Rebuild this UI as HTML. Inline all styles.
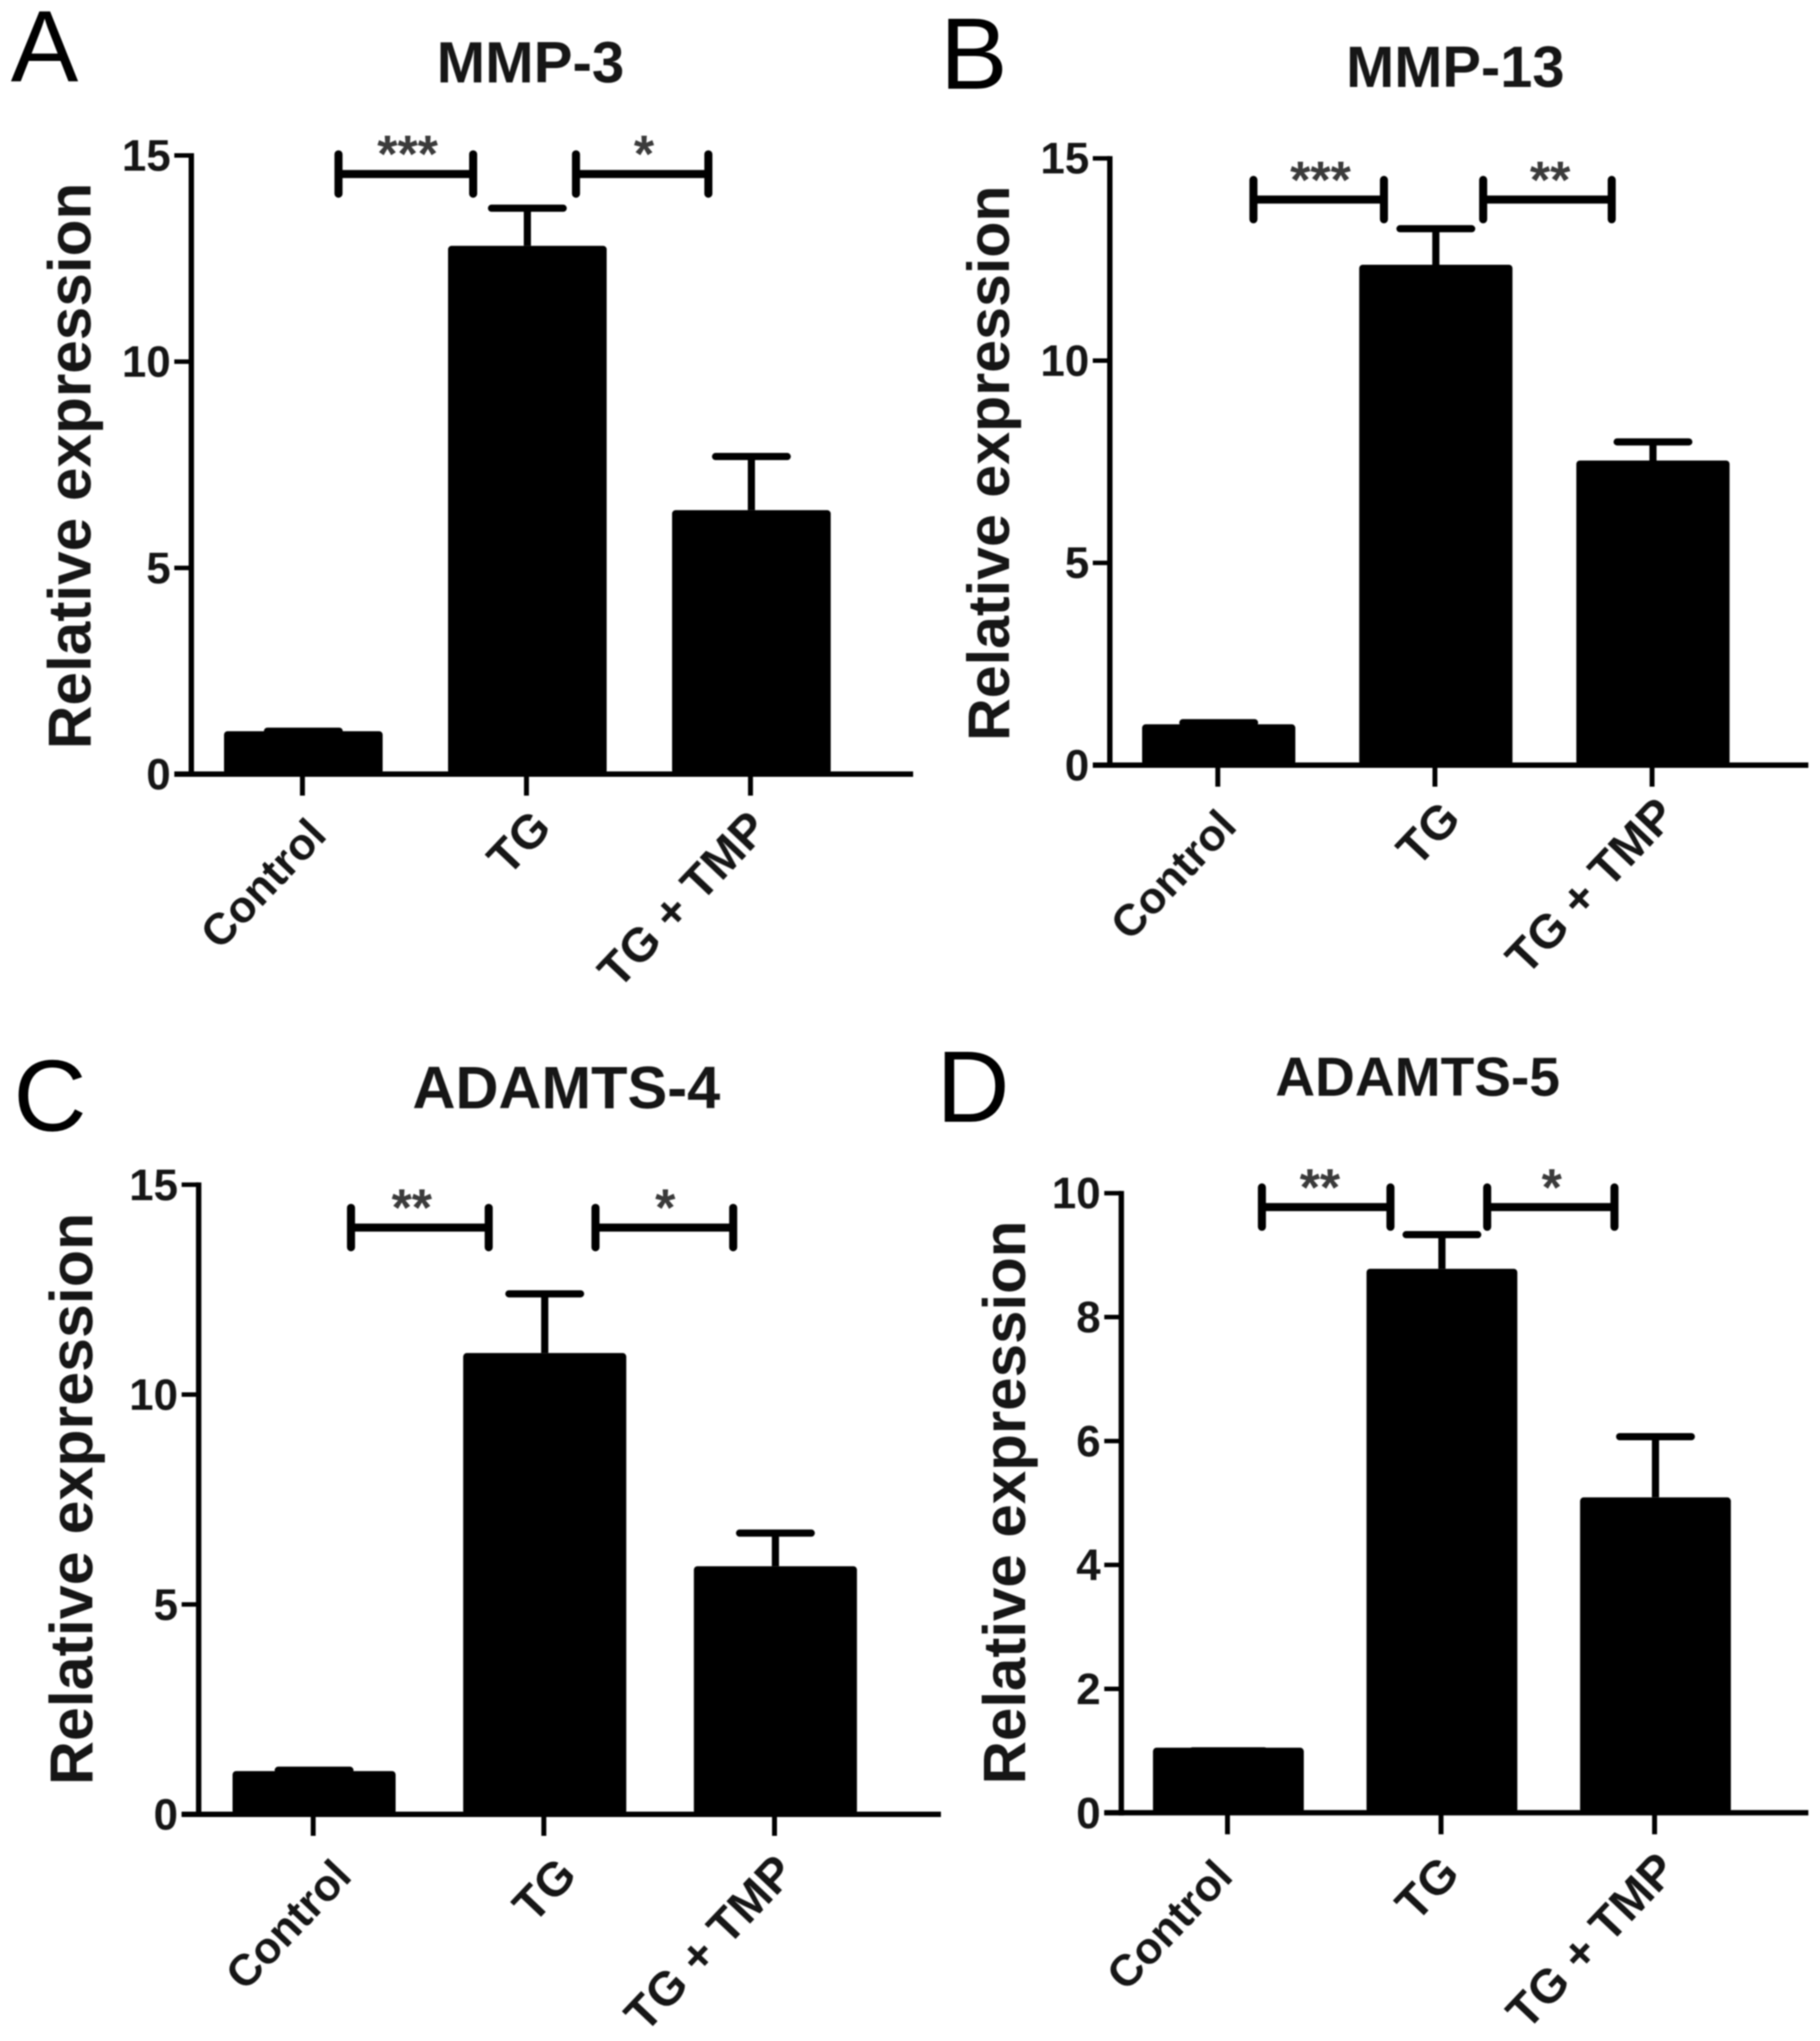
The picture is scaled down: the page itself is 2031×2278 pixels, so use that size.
<!DOCTYPE html>
<html lang="en">
<head>
<meta charset="utf-8">
<title>Relative expression of MMP-3, MMP-13, ADAMTS-4 and ADAMTS-5</title>
<style>
html,body{margin:0;padding:0;background:#fff;width:2031px;height:2278px;overflow:hidden}
svg{display:block}
text{font-family:"Liberation Sans",Arial,sans-serif}
.letter{font-size:113px;font-weight:400;fill:#000}
.title{font-weight:700;fill:#151515;text-anchor:middle}
.ytitle{font-weight:700;fill:#151515;text-anchor:middle}
</style>
</head>
<body>
<svg id="figure" xmlns="http://www.w3.org/2000/svg" width="2031" height="2278" viewBox="0 0 2031 2278">
<defs><filter id="soft" x="-5%" y="-5%" width="110%" height="110%"><feGaussianBlur stdDeviation="0.9"/></filter></defs>
<rect width="2031" height="2278" fill="#fff"/>
<g id="plots" filter="url(#soft)">
<g id="panel-a">
<text class="letter" x="12" y="91">A</text>
<text class="title" font-size="65" x="592" y="92">MMP-3</text>
<text class="ytitle" font-size="67.3" transform="translate(101 520) rotate(-90)">Relative expression</text>
</g>
<g id="panel-b">
<text class="letter" x="1049" y="99">B</text>
<text class="title" font-size="64.5" x="1624" y="97">MMP-13</text>
<text class="ytitle" font-size="66" transform="translate(1126 517) rotate(-90)">Relative expression</text>
</g>
<g id="panel-c">
<text class="letter" x="15" y="1262">C</text>
<text class="title" font-size="66.5" x="632" y="1237">ADAMTS-4</text>
<text class="ytitle" font-size="68" transform="translate(103 1673) rotate(-90)">Relative expression</text>
</g>
<g id="panel-d">
<text class="letter" x="1045" y="1252">D</text>
<text class="title" font-size="61.5" x="1582" y="1223">ADAMTS-5</text>
<text class="ytitle" font-size="67" transform="translate(1144 1677) rotate(-90)">Relative expression</text>
</g>
</g>
</svg>
<script>
var categories = ['Control', 'TG', 'TG + TMP'];

var mmp3Values = [1.04, 12.81, 6.4];
var mmp3Tops = [1.04, 13.72, 7.7];
var mmp3Ticks = [0, 5, 10, 15];

var mmp13Values = [1.01, 12.37, 7.53];
var mmp13Tops = [1.05, 13.26, 7.99];
var mmp13Ticks = [0, 5, 10, 15];

var adamts4Values = [1.03, 10.99, 5.91];
var adamts4Tops = [1.05, 12.4, 6.7];
var adamts4Ticks = [0, 5, 10, 15];

var adamts5Values = [1.05, 8.78, 5.09];
var adamts5Tops = [1, 9.33, 6.07];
var adamts5Ticks = [0, 2, 4, 6, 8, 10];

var significanceLabels = {
  a: ['***', '*'],
  b: ['***', '**'],
  c: ['**', '*'],
  d: ['**', '*']
};

var NS = 'http://www.w3.org/2000/svg';

function mk(parent, tag, attrs) {
  var el = document.createElementNS(NS, tag);
  for (var k in attrs) el.setAttribute(k, attrs[k]);
  parent.appendChild(el);
  return el;
}

function drawPanel(id, cfg, values, tops, ticks, labels) {
  var g = mk(document.getElementById('plots'), 'g', {});
  
  

  function xPos(i) { return cfg.x0 + i * cfg.step; }
  function yPos(v) { return cfg.y0 - v * (cfg.y0 - cfg.yTop) / cfg.max; }

  values.forEach(function (v, i) {
    var stem = mk(g, 'line', {x1: xPos(i), x2: xPos(i), y1: yPos(v), y2: yPos(tops[i]), stroke: '#000', 'stroke-width': 8});
    
    
    var cap = mk(g, 'line', {x1: xPos(i) - 40, x2: xPos(i) + 40, y1: yPos(tops[i]), y2: yPos(tops[i]), stroke: '#000', 'stroke-width': 8, 'stroke-linecap': 'round'});
    
    
    var bar = mk(g, 'rect', {x: xPos(i) - cfg.barW / 2, y: yPos(v), width: cfg.barW, height: cfg.y0 - yPos(v), rx: 4, fill: '#000'});
    
    
    var tick = mk(g, 'line', {x1: xPos(i) - 1, x2: xPos(i) - 1, y1: cfg.y0, y2: cfg.y0 + 24, stroke: '#000', 'stroke-width': 5.5});
    
    
    var off = cfg.labelOffset[i];
    var lab = mk(g, 'text', {transform: 'translate(' + (xPos(i) + off[0]) + ' ' + (cfg.y0 + off[1]) + ') rotate(-46.5)', 'text-anchor': 'end', 'font-size': i === 0 ? 49.5 : (i === 1 ? 53 : 53), 'font-weight': 700, fill: '#151515'});
    lab.textContent = categories[i];
    
    
  });

  var yAxis = mk(g, 'line', {x1: cfg.ax, x2: cfg.ax, y1: cfg.yTop - 2.5, y2: cfg.y0 + 3, stroke: '#000', 'stroke-width': 6});
  
  
  var xAxis = mk(g, 'line', {x1: cfg.ax - 19, x2: cfg.xEnd, y1: cfg.y0, y2: cfg.y0, stroke: '#000', 'stroke-width': 6});
  
  

  ticks.forEach(function (t) {
    var tk = mk(g, 'line', {x1: cfg.ax - 19, x2: cfg.ax, y1: yPos(t), y2: yPos(t), stroke: '#000', 'stroke-width': 5});
    
    
    var tl = mk(g, 'text', {x: cfg.ax - 23, y: yPos(t) + 17, 'text-anchor': 'end', 'font-size': 49, 'font-weight': 700, fill: '#151515'});
    tl.textContent = t;
    
    
  });

  cfg.spans.forEach(function (s, i) {
    var x1 = xPos(s[0]), x2 = xPos(s[1]), y = yPos(cfg.level);
    var path = mk(g, 'path', {d: 'M' + x1 + ' ' + (y - 22) + 'V' + (y + 22) + 'M' + x2 + ' ' + (y - 22) + 'V' + (y + 22) + 'M' + x1 + ' ' + y + 'H' + x2, stroke: '#000', 'stroke-width': 9, fill: 'none', 'stroke-linecap': 'round'});
    
    
    var star = mk(g, 'text', {x: (x1 + x2) / 2 + cfg.starShift[i], y: y - 2, 'text-anchor': 'middle', 'font-size': 58, 'font-weight': 700, fill: '#3a3a3a'});
    star.textContent = labels[i];
    
    
  });
}

drawPanel('a', {ax: 213.5, y0: 864, yTop: 173.5, max: 15, xEnd: 1019, x0: 338.5, step: 250, barW: 177, level: 14.55, spans: [[0.157, 0.758], [1.217, 1.808]], starShift: [2, 2], labelOffset: [[28, 70], [29, 62], [21, 63]]}, mmp3Values, mmp3Tops, mmp3Ticks, significanceLabels.a);
drawPanel('b', {ax: 1238.5, y0: 854, yTop: 176.7, max: 15, xEnd: 2018, x0: 1360, step: 242.3, barW: 171, level: 13.98, spans: [[0.16, 0.761], [1.218, 1.81]], starShift: [2, 3], labelOffset: [[22, 70], [30, 62], [28, 58]]}, mmp13Values, mmp13Tops, mmp13Ticks, significanceLabels.b);
drawPanel('c', {ax: 221.7, y0: 2025, yTop: 1322.3, max: 15, xEnd: 1050, x0: 350.5, step: 257.4, barW: 182, level: 13.98, spans: [[0.16, 0.757], [1.22, 1.817]], starShift: [-9, 1], labelOffset: [[44, 71], [38, 70], [24, 67]]}, adamts4Values, adamts4Tops, adamts4Ticks, significanceLabels.c);
drawPanel('d', {ax: 1251.3, y0: 2023.3, yTop: 1331.7, max: 10, xEnd: 2018, x0: 1370.8, step: 238.3, barW: 168.3, level: 9.775, spans: [[0.157, 0.759], [1.212, 1.808]], starShift: [-7, 1], labelOffset: [[7, 73], [22, 70], [26, 66]]}, adamts5Values, adamts5Tops, adamts5Ticks, significanceLabels.d);
</script>
</body>
</html>
